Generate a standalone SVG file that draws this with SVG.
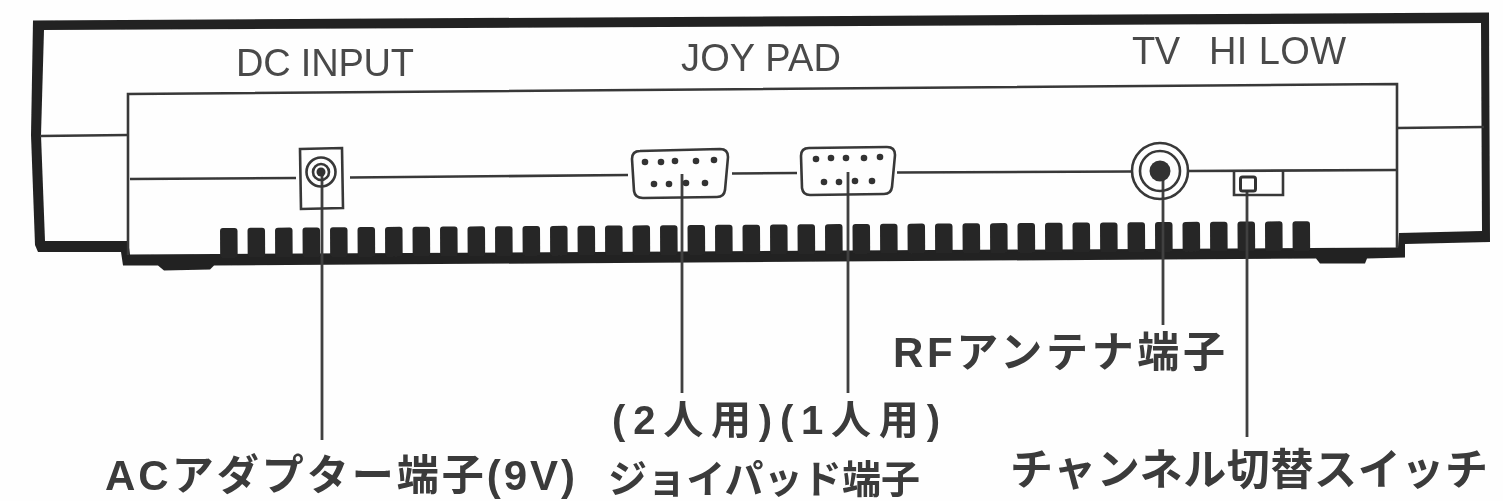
<svg xmlns="http://www.w3.org/2000/svg" width="1503" height="501" viewBox="0 0 1503 501">
<style>
.ink{fill:#222}
.line{fill:none;stroke:#383838;stroke-width:2.6}
.lead{fill:none;stroke:#3f3f3f;stroke-width:2.8}
.pin{fill:#333}
.fin{fill:#262626}
.top{font-family:"Liberation Sans",Arial,sans-serif;font-size:38px;fill:#4a4a4a}
.lab{font-family:"Liberation Sans","Noto Sans CJK JP",sans-serif;font-weight:700;fill:#3a3a3a}
.jp{font-family:"Noto Sans CJK JP",sans-serif;font-weight:700;fill:#3a3a3a}
</style>
<defs>
<filter id="soft" x="0" y="0" width="1503" height="501" filterUnits="userSpaceOnUse"><feGaussianBlur stdDeviation="0.7"/></filter>
<rect id="f" class="fin" width="17.500" height="30" rx="3"/>
</defs>
<rect width="1503" height="501" fill="#fefefe"/>
<g filter="url(#soft)">
<g id="case">
<path class="ink" fill-rule="evenodd" d="M33 20.500L1489 12.500L1490 242L1405 244L1405 257.500L1367 258.500L1365 263.500L1320 263.500L1316 258.500L214 265.500L210 269.500L164 270.500L158 265.500L123 265.500L121 252L38 252L35 245L31 135ZM44 30L41 135L45 241L128 241L130 254.500L1398 247.500L1399 233L1482 231L1481 23Z"/>
<path class="line" d="M128 255L128 94L1397 84L1397 248"/>
<path class="line" d="M40 136L128 135M1397 128L1484 127"/>
<path class="line" d="M130 179L296 178M350 177.500L628 175M732 173.500L797 173M897 172.500L1132 171.500M1188 171L1397 170"/>
<g id="vents" transform="rotate(-0.36 220 228)">
<use href="#f" x="220" y="228"/><use href="#f" x="247.500" y="228"/><use href="#f" x="275" y="228"/><use href="#f" x="302.500" y="228"/><use href="#f" x="330" y="228"/><use href="#f" x="357.500" y="228"/><use href="#f" x="385" y="228"/><use href="#f" x="412.500" y="228"/><use href="#f" x="440" y="228"/><use href="#f" x="467.500" y="228"/><use href="#f" x="495" y="228"/><use href="#f" x="522.500" y="228"/><use href="#f" x="550" y="228"/><use href="#f" x="577.500" y="228"/><use href="#f" x="605" y="228"/><use href="#f" x="632.500" y="228"/><use href="#f" x="660" y="228"/><use href="#f" x="687.500" y="228"/><use href="#f" x="715" y="228"/><use href="#f" x="742.500" y="228"/><use href="#f" x="770" y="228"/><use href="#f" x="797.500" y="228"/><use href="#f" x="825" y="228"/><use href="#f" x="852.500" y="228"/><use href="#f" x="880" y="228"/><use href="#f" x="907.500" y="228"/><use href="#f" x="935" y="228"/><use href="#f" x="962.500" y="228"/><use href="#f" x="990" y="228"/><use href="#f" x="1017.500" y="228"/><use href="#f" x="1045" y="228"/><use href="#f" x="1072.500" y="228"/><use href="#f" x="1100" y="228"/><use href="#f" x="1127.500" y="228"/><use href="#f" x="1155" y="228"/><use href="#f" x="1182.500" y="228"/><use href="#f" x="1210" y="228"/><use href="#f" x="1237.500" y="228"/><use href="#f" x="1265" y="228"/><use href="#f" x="1292.500" y="228"/>
</g>
</g>
<g id="connectors">
<path class="lead" d="M322 172V440M682 174V393M848 172V393M1163 175V325M1247 185V437"/>
</g>
<g id="dc-port">
<path class="line" d="M300 149L342 148L343 208L301 209Z"/>
<circle class="line" cx="321" cy="172" r="14.500"/>
<circle class="line" cx="321" cy="172" r="8"/>
<circle class="pin" cx="321" cy="172" r="4.500"/>
<text class="top" x="236" y="76" textLength="178">DC INPUT</text>
</g>
<g id="joypad-2">
<path class="line" d="M640 151L720 149Q728 149 728 157L725 190Q724 197 717 197L643 198Q635 198 634 191L632 159Q632 151 640 151Z"/>
<circle class="pin" cx="645" cy="162" r="3.300"/><circle class="pin" cx="661" cy="162" r="3.300"/><circle class="pin" cx="675" cy="161" r="3.300"/><circle class="pin" cx="696" cy="161" r="3.300"/><circle class="pin" cx="714" cy="160" r="3.300"/>
<circle class="pin" cx="654" cy="184" r="3.300"/><circle class="pin" cx="669" cy="184" r="3.300"/><circle class="pin" cx="686" cy="183" r="3.300"/><circle class="pin" cx="705" cy="183" r="3.300"/>
<text class="top" x="681" y="71" textLength="160">JOY PAD</text>
</g>
<g id="joypad-1">
<path class="line" d="M809 148L887 147Q895 147 895 155L892 187Q891 194 884 194L810 195Q803 195 802 188L801 156Q801 148 809 148Z"/>
<circle class="pin" cx="816" cy="159" r="3.300"/><circle class="pin" cx="831" cy="158" r="3.300"/><circle class="pin" cx="846" cy="158" r="3.300"/><circle class="pin" cx="864" cy="158" r="3.300"/><circle class="pin" cx="880" cy="157" r="3.300"/>
<circle class="pin" cx="824" cy="182" r="3.300"/><circle class="pin" cx="839" cy="182" r="3.300"/><circle class="pin" cx="855" cy="181" r="3.300"/><circle class="pin" cx="872" cy="181" r="3.300"/>
</g>
<g id="rf-port">
<circle class="line" cx="1160" cy="171" r="28"/>
<circle class="line" cx="1160" cy="171" r="20"/>
<circle class="pin" cx="1160" cy="171" r="10.500"/>
</g>
<g id="channel-switch">
<path class="line" d="M1234 171V195L1283 195V171"/>
<rect x="1240.500" y="177" width="15" height="14" rx="2" fill="#fefefe" stroke="#333" stroke-width="3"/>
<text class="top" y="64"><tspan x="1132" textLength="48">TV</tspan><tspan x="1198" textLength="148"> HI LOW</tspan></text>
</g>
<g id="labels">
<text class="lab" x="105" y="490" font-size="42" textLength="470">ACアダプター端子(9V)</text>
<text class="lab" x="612" y="434" font-size="40" textLength="328">(2人用)(1人用)</text>
<text class="jp" x="608" y="493" font-size="39" textLength="312">ジョイパッド端子</text>
<text class="lab" x="893" y="367" font-size="42" textLength="332">RFアンテナ端子</text>
<text class="jp" x="1010" y="485" font-size="43" textLength="478">チャンネル切替スイッチ</text>
</g>
</g>
</svg>
